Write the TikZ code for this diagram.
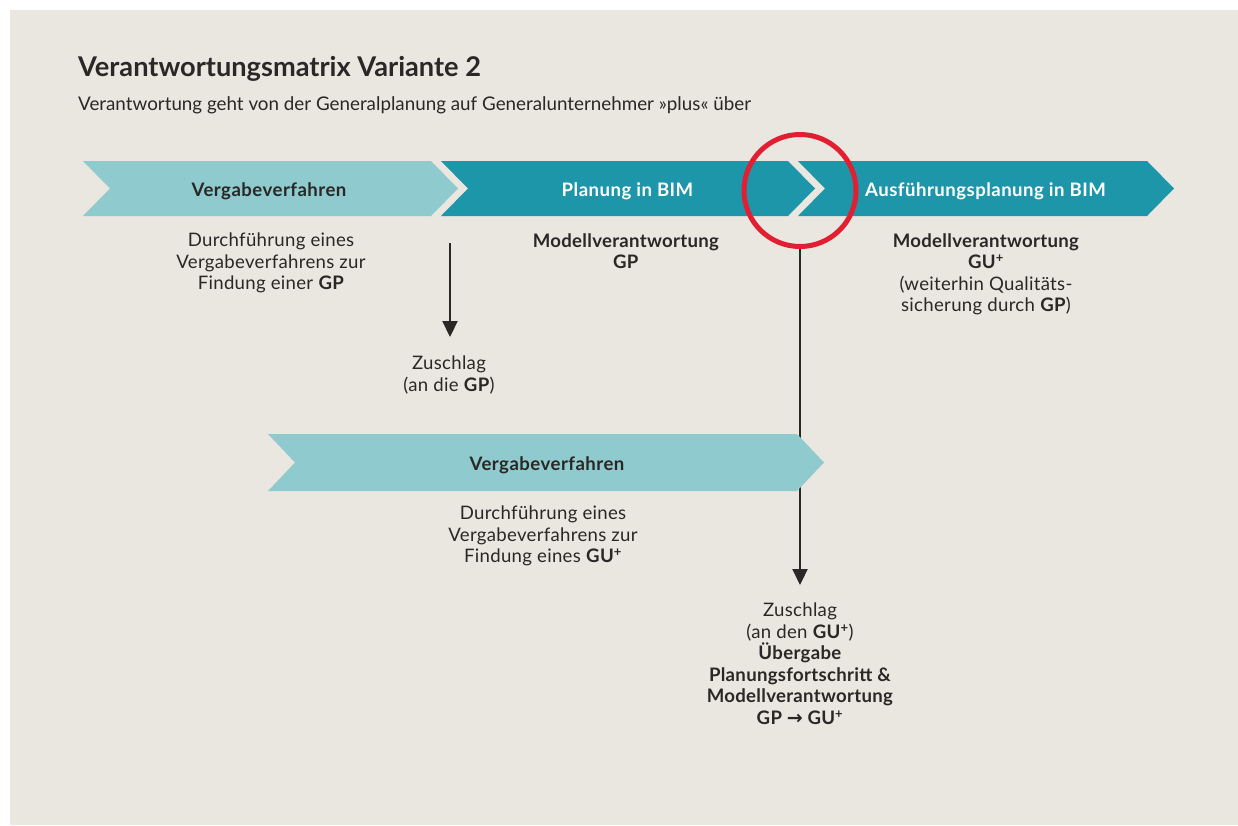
\documentclass[tikz,border=0pt]{standalone}
\usepackage{fontspec}
\setmainfont{Lato}
\newfontfamily\arrowfont{DejaVu Sans}
\usetikzlibrary{arrows.meta}

\definecolor{bgbeige}{HTML}{EAE6E0}
\definecolor{lightteal}{HTML}{8FCACE}
\definecolor{darkteal}{HTML}{1C96A8}
\definecolor{ringred}{HTML}{E21F32}
\definecolor{inkgrey}{HTML}{2A2826}

\tikzset{
  lightarrow/.style={fill=lightteal},
  darkarrow/.style={fill=darkteal},
  barlabel/.style={font=\fontsize{18.6}{21.5}\selectfont\bfseries\addfontfeature{LetterSpace=2.5}, anchor=base, inner sep=0pt},
  bodytext/.style={font=\fontsize{18.6}{21.5}\selectfont\addfontfeature{LetterSpace=1.6}, align=center, anchor=north, inner sep=0pt, text=inkgrey},
  pointer/.style={draw=inkgrey, line width=2.2pt, -{Triangle[width=15pt,length=16pt]}}
}

\begin{document}
\begin{tikzpicture}[x=1pt,y=-1pt]
\useasboundingbox (0,0) rectangle (1238,825);
\fill[white] (0,0) rectangle (1238,825);
\fill[bgbeige] (10,10) rectangle (1238,825);

\node[anchor=base west, inner sep=0pt, text=inkgrey, font=\fontsize{27.2}{30}\selectfont\bfseries] (title) at (78,76) {Verantwortungsmatrix Variante 2};
\node[anchor=base west, inner sep=0pt, text=inkgrey, font=\fontsize{18.8}{21}\selectfont] (subtitle) at (78,110) {Verantwortung geht von der Generalplanung auf Generalunternehmer »plus« über};

% top row
\fill[lightarrow] (83,161) -- (431,161) -- (458,188.5) -- (431,216) -- (83,216) -- (110,188.5) -- cycle;
\node[barlabel, text=inkgrey] (vergabe1) at (269,196) {Vergabeverfahren};

\fill[darkarrow] (441,161) -- (788,161) -- (815,188.5) -- (788,216) -- (441,216) -- (468,188.5) -- cycle;
\node[barlabel, text=white] (planung) at (627.5,196) {Planung in BIM};

\fill[darkarrow] (798,161) -- (1147,161) -- (1174,188.5) -- (1147,216) -- (798,216) -- (825,188.5) -- cycle;
\node[barlabel, text=white] (ausfuehrung) at (985.5,196) {Ausführungsplanung in BIM};

\node[circle, draw=ringred, line width=5pt, minimum size=112pt, inner sep=0pt] (ring) at (800,190.5) {};

\node[bodytext] (durch1) at (271,233) {Durchführung eines\\Vergabeverfahrens zur\\Findung einer \textbf{GP}};
\node[bodytext] (modell1) at (626,233) {\textbf{Modellverantwortung}\\\textbf{GP}};
\node[bodytext] (modell2) at (986,233) {\textbf{Modellverantwortung}\\\textbf{GU\textsuperscript{+}}\\(weiterhin Qualitäts-\\sicherung durch \textbf{GP})};

% first award
\coordinate (drop1) at (450,243);
\node[bodytext] (zuschlag1) at (449,356) {Zuschlag\\(an die \textbf{GP})};
\draw[pointer] (drop1) -- (drop1 |- 0,337);

% second award
\node[bodytext] (zuschlag2) at (800,603) {Zuschlag\\(an den \textbf{GU\textsuperscript{+}})\\\textbf{Übergabe}\\\textbf{Planungsfortschritt \&}\\\textbf{Modellverantwortung}\\\textbf{GP {\arrowfont\fontsize{19}{21.5}\selectfont →} GU\textsuperscript{+}}};
\draw[pointer, shorten >=18pt] (ring.south) -- (zuschlag2.north);

% lower row
\fill[lightarrow] (268,434) -- (797,434) -- (824,462.5) -- (797,491) -- (268,491) -- (295,462.5) -- cycle;
\node[barlabel, text=inkgrey] (vergabe2) at (547,470.5) {Vergabeverfahren};
\node[bodytext] (durch2) at (543,506) {Durchführung eines\\Vergabeverfahrens zur\\Findung eines \textbf{GU\textsuperscript{+}}};

\end{tikzpicture}
\end{document}
